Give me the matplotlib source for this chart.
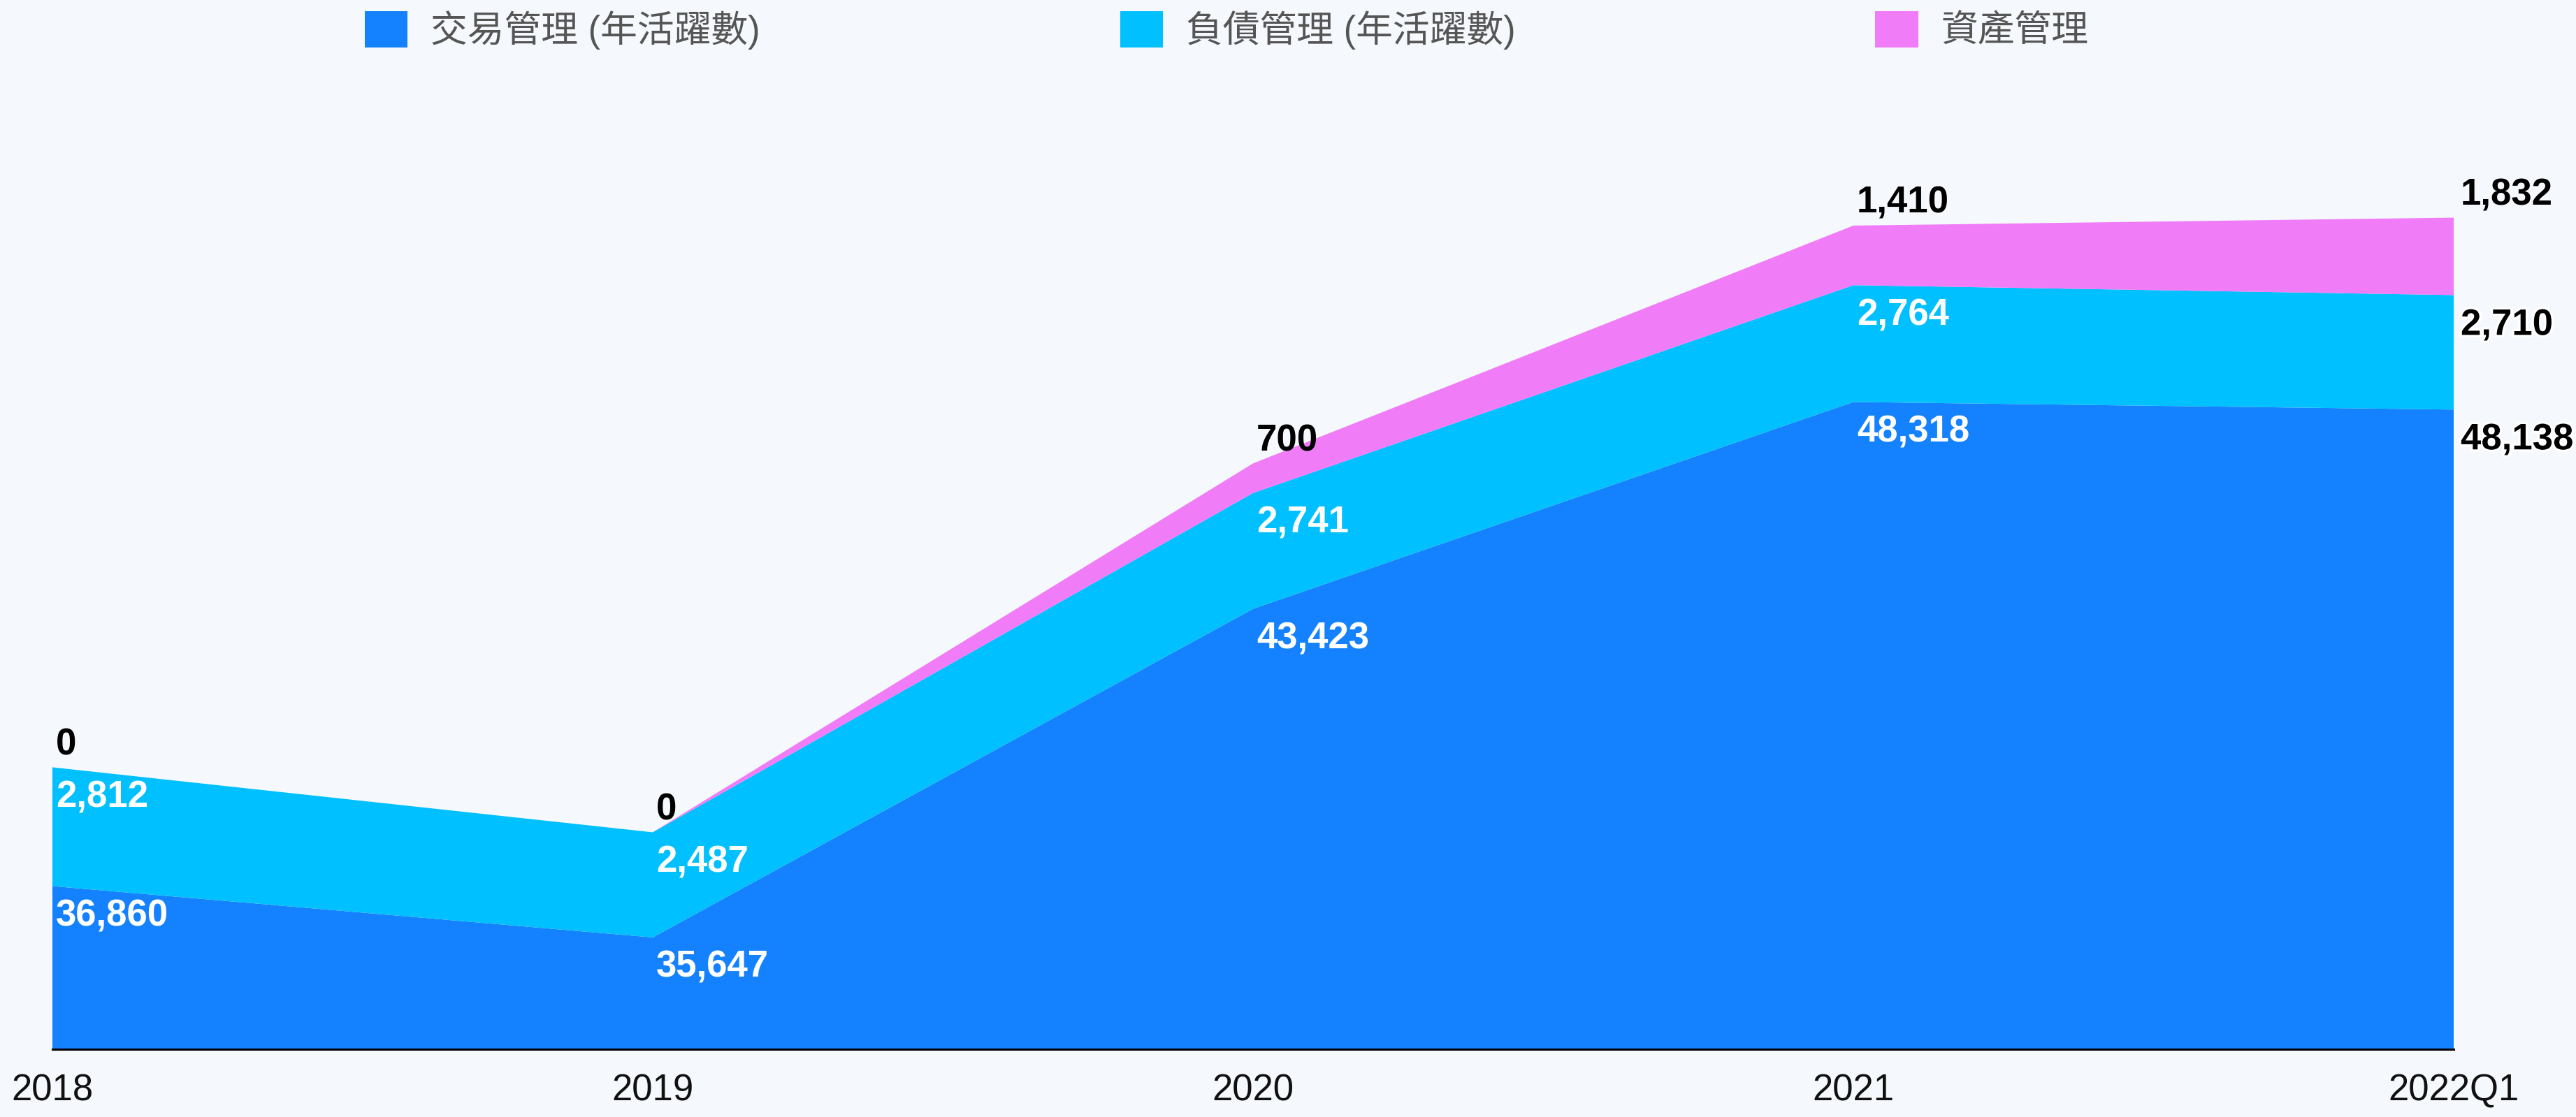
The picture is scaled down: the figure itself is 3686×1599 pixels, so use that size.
import matplotlib
matplotlib.use("Agg")
import matplotlib.pyplot as plt
import matplotlib.patheffects as pe
from matplotlib.patches import Patch

years = ["2018", "2019", "2020", "2021", "2022Q1"]
trade = [36860, 35647, 43423, 48318, 48138]
debt = [2812, 2487, 2741, 2764, 2710]
asset = [0, 0, 700, 1410, 1832]
series_names = ["交易管理 (年活躍數)", "負債管理 (年活躍數)", "資產管理"]

BG = "#F5F8FD"
COLORS = ["#1482FF", "#00C0FF", "#F07CF8"]

plt.rcParams["font.family"] = ["Liberation Sans", "Noto Sans CJK TC", "DejaVu Sans"]

fig = plt.figure(figsize=(36.87, 15.99), dpi=100, facecolor=BG)
ax = fig.add_axes([75 / 3687, 1 - 1502 / 1599, (3511 - 75) / 3687, (1502 - 200) / 1599])
ax.set_facecolor(BG)

x = list(range(len(years)))
ax.stackplot(x, trade, debt, asset, colors=COLORS, linewidth=0)

ax.set_xlim(0, len(years) - 1)
ax.set_ylim(33000, 33000 + 1302 / 0.06049)

for side in ["top", "right", "left"]:
    ax.spines[side].set_visible(False)
ax.spines["bottom"].set_linewidth(2.2)
ax.spines["bottom"].set_color("black")
ax.set_yticks([])
ax.set_xticks(x)
ax.set_xticklabels(years, fontsize=38, color="#111111")
ax.tick_params(axis="x", length=0, pad=25)

# value labels
outline = [pe.withStroke(linewidth=5, foreground="white")]
for i in range(len(years)):
    last = i == len(years) - 1
    dx = 10 if last else 5
    top_trade = trade[i]
    top_debt = trade[i] + debt[i]
    top_asset = top_debt + asset[i]
    for val, y, dy, col in [
        (trade[i], top_trade, -43, "white"),
        (debt[i], top_debt, -43, "white"),
        (asset[i], top_asset, 32, "black"),
    ]:
        c = "black" if last else col
        t = ax.annotate(f"{val:,}", (i, y), xytext=(dx, dy), textcoords="offset pixels",
                        ha="left", va="center", fontsize=38, fontweight="bold",
                        color=c, annotation_clip=False)
        if last and col == "white":
            t.set_path_effects(outline)

handles = [Patch(facecolor=c, edgecolor="none") for c in COLORS]
leg = fig.legend(handles, series_names, loc="center left",
                 bbox_to_anchor=(522 / 3687, 1 - 43 / 1599), ncol=3, frameon=False,
                 fontsize=38, handlelength=1.16, handleheight=1.16, handletextpad=0.63,
                 columnspacing=9.75, borderpad=0, borderaxespad=0)
for t in leg.get_texts():
    t.set_color("#555555")

fig.savefig("out.png", dpi=100, facecolor=BG)
